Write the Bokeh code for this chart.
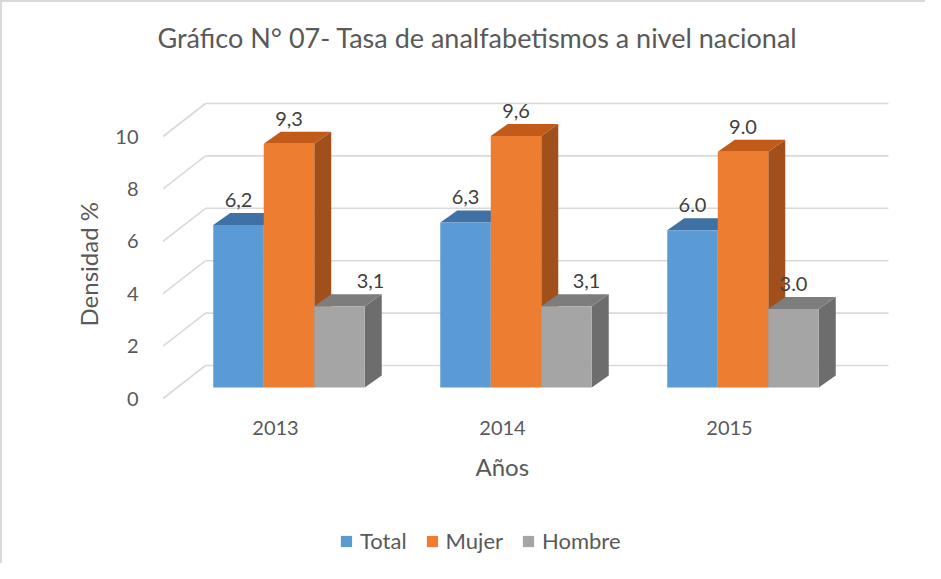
from bokeh.plotting import figure
from bokeh.layouts import column
from bokeh.models import (Range1d, LinearAxis, FixedTicker, Legend, LegendItem,
                          ColumnDataSource, Title)
from bokeh.core.properties import value
from bokeh.embed import file_html
from bokeh.resources import INLINE

# ---------------- data ----------------
years = ["2013", "2014", "2015"]
series = ["Total", "Mujer", "Hombre"]
total = [6.2, 6.3, 6.0]
mujer = [9.3, 9.6, 9.0]
hombre = [3.1, 3.1, 3.0]
decimal_sep = [",", ",", "."]
y_ticks = [0, 2, 4, 6, 8, 10]
title_text = "Gráfico N° 07- Tasa de analfabetismos a nivel nacional"
y_title = "Densidad %"
x_title = "Años"

# ---------------- styles ----------------
front_colors = ["#5B9BD5", "#ED7D31", "#A5A5A5"]
top_colors = ["#3F71A4", "#C25B1A", "#7D7D7D"]
side_colors = ["#3A6794", "#A1501C", "#6D6D6D"]
label_dx = [[0, 0, 0], [0, 0, 0], [31, 20, 0]]   # manual label shifts (px)
TXT = "#595959"
FONT = "Lato"

W, H, HL = 925, 513, 50                  # main figure / legend strip heights
FL, FR, FT, FB = 148, 898, 68, 398       # frame edges in figure pixels
PXU_X, PXU_Y = 227.0, 26.2               # pixels per group / per unit
X0, Y0 = 286.5, 385.0                    # pixel of group 0 centre / value 0

BW = 50.5 / PXU_X                         # bar width
DX, DY = 17 / PXU_X, 12 / PXU_Y           # bar depth
FDX, FDY = 13.5 / PXU_X, 11 / PXU_Y       # front plane offset
WDX, WDY = 29 / PXU_X, 22 / PXU_Y         # back wall offset

x_range = Range1d((FL - X0) / PXU_X, (FR - X0) / PXU_X)
y_range = Range1d((Y0 - FB) / PXU_Y, (Y0 - FT) / PXU_Y)

p = figure(width=W, height=H, x_range=x_range, y_range=y_range,
           output_backend="svg", toolbar_location=None,
           x_axis_location=None, y_axis_location=None,
           min_border_left=FL, min_border_right=W - FR,
           min_border_top=FT, min_border_bottom=H - FB,
           title=title_text)
p.grid.visible = False
p.outline_line_color = None
p.background_fill_color = "white"
p.border_fill_color = "white"
p.styles = {"border-left": "2px solid #D9D9D9", "border-top": "2px solid #D9D9D9"}

p.title.align = "left"
p.title.offset = 7
p.title.standoff = 33
p.title.text_font = FONT
p.title.text_font_size = "27px"
p.title.text_font_style = "normal"
p.title.text_color = TXT

# front ranges for the axes (labels sit on the front plane)
p.extra_x_ranges = {"front": Range1d(x_range.start + FDX, x_range.end + FDX)}
p.extra_y_ranges = {"front": Range1d(y_range.start + FDY, y_range.end + FDY)}

# ---------------- walls / gridlines ----------------
n = len(years)
wall_left = -1.5 * BW - 0.034
front_left = wall_left - (FDX + WDX)
wall_right = (n - 1) + 1.5 * BW + DX + 0.232
gy_wall = [t + WDY for t in y_ticks]
gy_front = [t - FDY for t in y_ticks]
p.segment(x0=[wall_left] * len(y_ticks), y0=gy_wall,
          x1=[wall_right] * len(y_ticks), y1=gy_wall,
          line_color="#D9D9D9", line_width=1.6)
p.segment(x0=[front_left] * len(y_ticks), y0=gy_front,
          x1=[wall_left] * len(y_ticks), y1=gy_wall,
          line_color="#D9D9D9", line_width=1.6)

# ---------------- 3D bars ----------------
values = [total, mujer, hombre]
for s, vals in enumerate(values):
    xc = [g + (s - 1) * BW for g in range(n)]
    xl = [c - BW / 2 for c in xc]
    xr = [c + BW / 2 for c in xc]
    side_xs = [[r, r + DX, r + DX, r] for r in xr]
    side_ys = [[0, DY, v + DY, v] for v in vals]
    top_xs = [[l, l + DX, r + DX, r] for l, r in zip(xl, xr)]
    top_ys = [[v, v + DY, v + DY, v] for v in vals]
    p.patches(side_xs, side_ys, fill_color=side_colors[s], line_color=None)
    p.patches(top_xs, top_ys, fill_color=top_colors[s], line_color=None)
    p.quad(left=xl, right=xr, bottom=[0] * n, top=vals,
           fill_color=front_colors[s], line_color=None)
    txt = [f"{v:.1f}".replace(".", decimal_sep[g]) for g, v in enumerate(vals)]
    src = ColumnDataSource(dict(x=xc, y=vals, t=txt, dx=label_dx[s]))
    p.text(x="x", y="y", text="t", x_offset="dx", y_offset=-25, source=src,
           text_align="center", text_baseline="middle",
           text_font=value(FONT), text_font_size="20px", text_color="#404040")

# ---------------- axes ----------------
yax = LinearAxis(y_range_name="front", ticker=FixedTicker(ticks=y_ticks),
                 axis_line_color=None, major_tick_line_color=None,
                 minor_tick_line_color=None, major_tick_out=0, major_tick_in=0,
                 major_label_standoff=12, major_label_text_font=FONT,
                 major_label_text_font_size="20px", major_label_text_color=TXT)
p.add_layout(yax, "left")
xax = LinearAxis(x_range_name="front", ticker=FixedTicker(ticks=list(range(n))),
                 major_label_overrides={i: y for i, y in enumerate(years)},
                 axis_line_color=None, major_tick_line_color=None,
                 minor_tick_line_color=None, major_tick_out=0, major_tick_in=0,
                 major_label_standoff=20, major_label_text_font=FONT,
                 major_label_text_font_size="20px", major_label_text_color=TXT)
p.add_layout(xax, "below")

ytitle = Title(text=y_title, align="left", offset=74, standoff=17,
               vertical_align="middle", text_font=FONT, text_font_size="24px",
               text_font_style="normal", text_color=TXT)
p.add_layout(ytitle, "left")
xtitle = Title(text=x_title, align="left", offset=325, standoff=29,
               vertical_align="top", text_font=FONT, text_font_size="24px",
               text_font_style="normal", text_color=TXT)
p.add_layout(xtitle, "below")

# ---------------- legend strip ----------------
pl = figure(width=W, height=HL, x_range=Range1d(0, 1), y_range=Range1d(0, 1),
            output_backend="svg", toolbar_location=None,
            x_axis_location=None, y_axis_location=None,
            min_border=0, outline_line_color=None)
pl.grid.visible = False
pl.styles = {"border-left": "2px solid #D9D9D9"}
items = []
for s, vals in enumerate(values):
    r = pl.quad(left=list(range(n)), right=list(range(n)), bottom=[0] * n,
                top=vals, fill_color=front_colors[s], line_color=None,
                visible=False)
    items.append(LegendItem(label=series[s], renderers=[r]))
legend = Legend(items=items, orientation="horizontal", location=(189, 9),
                glyph_width=14, glyph_height=14, label_standoff=7, spacing=18,
                padding=0, margin=0, border_line_color=None,
                background_fill_alpha=0, inactive_fill_alpha=0,
                label_text_font=FONT, label_text_font_size="22px",
                label_text_color=TXT)
pl.add_layout(legend, "center")

page = column(p, pl, spacing=0)
open("out.html", "w").write(file_html(page, INLINE))
